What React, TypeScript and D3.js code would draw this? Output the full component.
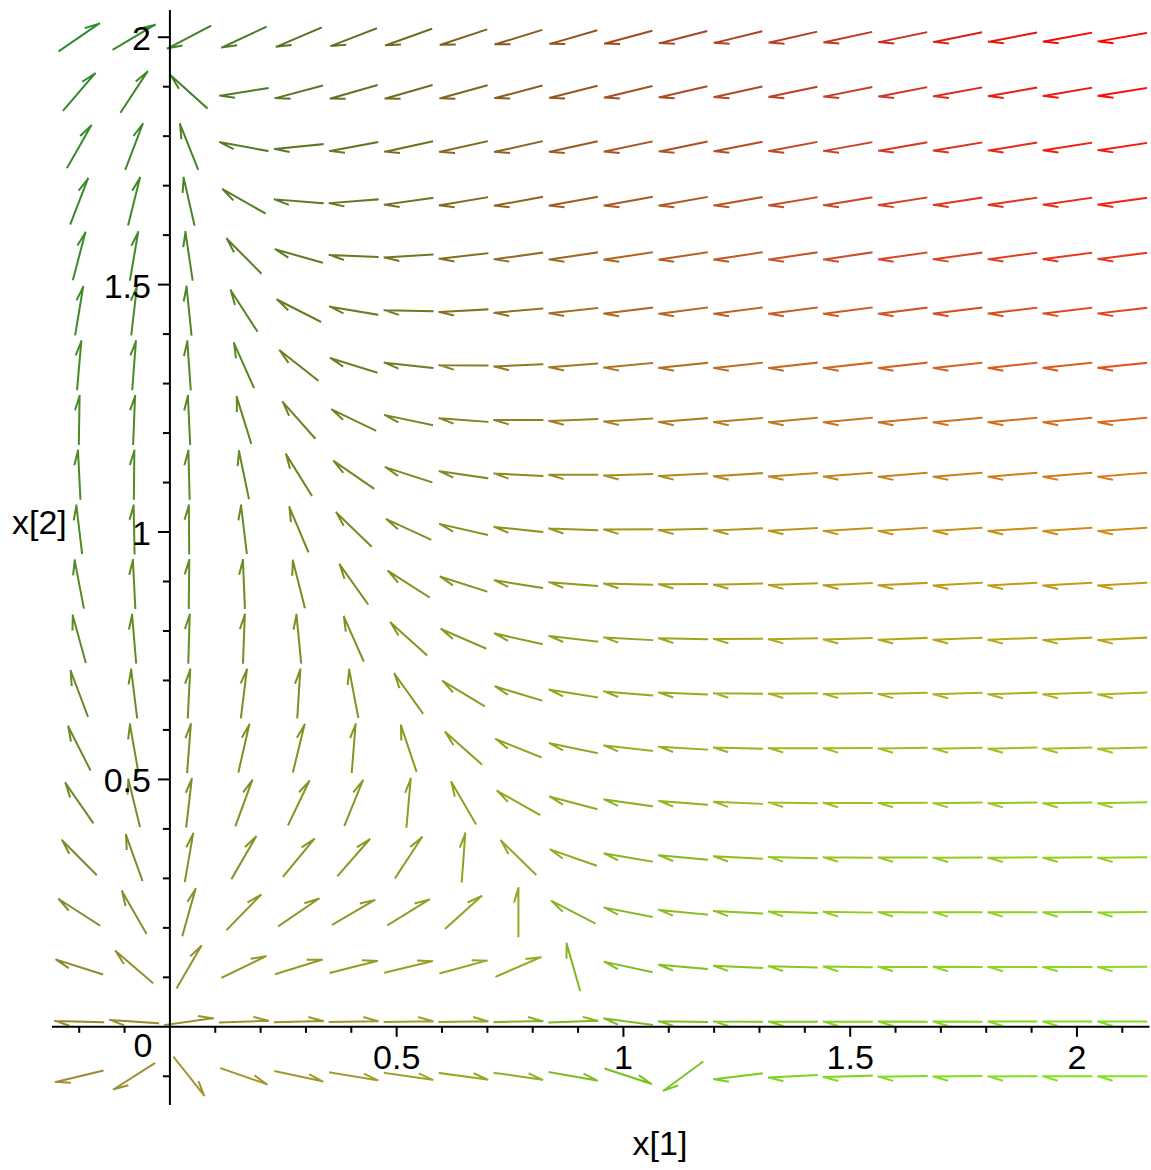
import React from 'react';
import * as d3 from 'd3';

const W = 1151;
const H = 1170;

// competing species: x1' = x1*(r1 - s1*x1 - c1*x2), x2' = x2*(r2 - s2*x2 - c2*x1)
const growth = [1, 0.5];
const selfLimit = [1, 0.25];
const crossLimit = [1, 0.25];

// arrow grid (Maple style, 20 x 20 incl. end points)
const x1Span = [-0.2, 2.1];
const x2Span = [-0.1, 2.0];
const arrowsPerSide = 20;

// view window
const xView = [-0.26, 2.16];
const yView = [-0.158, 2.055];

const xTickValues = [0.5, 1, 1.5, 2];
const xTickLabels = ['0.5', '1', '1.5', '2'];
const yTickValues = [0.5, 1, 1.5, 2];
const yTickLabels = ['0.5', '1', '1.5', '2'];
const originLabel = '0';
const xTitle = 'x[1]';
const yTitle = 'x[2]';

// arrow colours sampled across the plane
const colorX = [-0.2, 0.5, 1.0, 1.5, 2.1];
const colorY = [-0.1, 0.5, 1.0, 1.5, 2.0];
const colorRows = [
  ['#a08a30', '#a0a028', '#78c020', '#80d820', '#80e420'],
  ['#6e8a28', '#8a9a20', '#90b020', '#a0c020', '#98c820'],
  ['#508a20', '#7e8c20', '#a09820', '#c09418', '#d48a10'],
  ['#3c8c28', '#707820', '#b06420', '#d05028', '#e83c20'],
  ['#2e8b2e', '#6e6a20', '#a04a20', '#c03828', '#ff0000'],
];

const rowScales = colorRows.map((row) =>
  d3.scaleLinear<string>().domain(colorX).range(row).interpolate(d3.interpolateRgb).clamp(true)
);

function arrowColor(x1: number, x2: number) {
  const col = rowScales.map((s) => s(x1));
  return d3.scaleLinear<string>().domain(colorY).range(col).interpolate(d3.interpolateRgb).clamp(true)(x2);
}

function field(x1: number, x2: number) {
  const d1 = x1 * (growth[0] - selfLimit[0] * x1 - crossLimit[0] * x2);
  const d2 = x2 * (growth[1] - selfLimit[1] * x2 - crossLimit[1] * x1);
  return [d1, d2];
}

export default function App() {
  const x = d3.scaleLinear().domain(xView).range([52, 1149.5]);
  const y = d3.scaleLinear().domain(yView).range([1105, 10]);

  const gx = d3.range(arrowsPerSide).map((i) => x1Span[0] + (i * (x1Span[1] - x1Span[0])) / (arrowsPerSide - 1));
  const gy = d3.range(arrowsPerSide).map((i) => x2Span[0] + (i * (x2Span[1] - x2Span[0])) / (arrowsPerSide - 1));

  const L = 48;
  const barb = 14;
  const ang = (17 * Math.PI) / 180;

  const arrows: { d: string; c: string; k: string }[] = [];
  gx.forEach((a) => {
    gy.forEach((b) => {
      const [f1, f2] = field(a, b);
      // screen-space direction
      const sx = x(a + f1) - x(a);
      const sy = y(b + f2) - y(b);
      const n = Math.hypot(sx, sy);
      if (n < 1e-12) return;
      const dx = sx / n;
      const dy = sy / n;
      const cx = x(a);
      const cy = y(b);
      const tx = cx - (dx * L) / 2;
      const ty = cy - (dy * L) / 2;
      const hx = cx + (dx * L) / 2;
      const hy = cy + (dy * L) / 2;
      const px = dy;
      const py = -dx;
      const bx = hx - dx * barb * Math.cos(ang) + px * barb * Math.sin(ang);
      const by = hy - dy * barb * Math.cos(ang) + py * barb * Math.sin(ang);
      arrows.push({
        d: `M${tx},${ty}L${hx},${hy}M${hx},${hy}L${bx},${by}`,
        c: arrowColor(a, b),
        k: `${a}-${b}`,
      });
    });
  });

  const xMinor = x.ticks(24);
  const yMinor = y.ticks(22);
  const font = "'Liberation Sans', Arial, Helvetica, sans-serif";

  return (
    <svg
      width={W}
      height={H}
      style={{ position: 'absolute', left: 0, top: 0, background: '#fff' }}
    >
      <rect x={0} y={0} width={W} height={H} fill="#fff" />
      <g>
        {arrows.map((a) => (
          <path key={a.k} d={a.d} stroke={a.c} strokeWidth={2} fill="none" strokeLinecap="square" />
        ))}
      </g>
      <g stroke="#000" strokeWidth={2}>
        <line x1={x(xView[0])} x2={x(xView[1])} y1={y(0)} y2={y(0)} />
        <line x1={x(0)} x2={x(0)} y1={y(yView[0])} y2={y(yView[1])} />
        {xMinor.map((t) => {
          const major = xTickValues.some((v) => Math.abs(v - t) < 1e-9);
          if (Math.abs(t) < 1e-9) return null;
          return <line key={'xt' + t} x1={x(t)} x2={x(t)} y1={y(0)} y2={y(0) + (major ? 10 : 6)} />;
        })}
        {yMinor.map((t) => {
          const major = yTickValues.some((v) => Math.abs(v - t) < 1e-9);
          if (Math.abs(t) < 1e-9) return null;
          return <line key={'yt' + t} x1={x(0) - (major ? 12 : 7)} x2={x(0)} y1={y(t)} y2={y(t)} />;
        })}
      </g>
      <g fontFamily={font} fontSize={34} fill="#000">
        {xTickValues.map((t, i) => (
          <text key={'xl' + t} x={x(t)} y={y(0) + 30} textAnchor="middle" dominantBaseline="central">
            {xTickLabels[i]}
          </text>
        ))}
        {yTickValues.map((t, i) => (
          <text key={'yl' + t} x={x(0) - 19} y={y(t) + 1} textAnchor="end" dominantBaseline="central">
            {yTickLabels[i]}
          </text>
        ))}
        <text x={x(0) - 27} y={y(0) + 18} textAnchor="middle" dominantBaseline="central">
          {originLabel}
        </text>
        <text x={660} y={1143} textAnchor="middle" dominantBaseline="central">
          {xTitle}
        </text>
        <text x={12} y={522} textAnchor="start" dominantBaseline="central">
          {yTitle}
        </text>
      </g>
    </svg>
  );
}
